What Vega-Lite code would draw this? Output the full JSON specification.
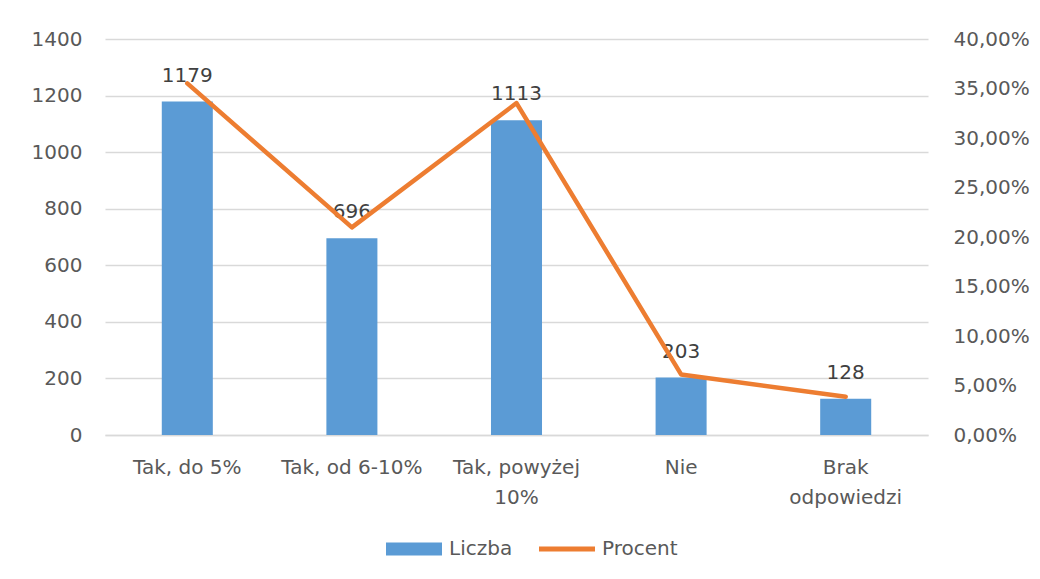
{
  "$schema": "https://vega.github.io/schema/vega-lite/v6.json",
  "width": 823,
  "height": 396,
  "padding": {"left": 31, "top": 29, "right": 0, "bottom": 0},
  "background": "white",
  "config": {
    "font": "DejaVu Sans",
    "view": {"stroke": null},
    "axis": {
      "labelFont": "DejaVu Sans",
      "labelFontSize": 20,
      "labelColor": "#595959",
      "ticks": false,
      "domain": false
    },
    "legend": {
      "labelFont": "DejaVu Sans",
      "labelFontSize": 20,
      "labelColor": "#595959"
    }
  },
  "data": {
    "values": [
      {"kategoria": "Tak, do 5%", "Liczba": 1179, "Procent": 0.3552},
      {"kategoria": "Tak, od 6-10%", "Liczba": 696, "Procent": 0.2097},
      {"kategoria": "Tak, powyżej 10%", "Liczba": 1113, "Procent": 0.3353},
      {"kategoria": "Nie", "Liczba": 203, "Procent": 0.0612},
      {"kategoria": "Brak odpowiedzi", "Liczba": 128, "Procent": 0.0386}
    ]
  },
  "encoding": {
    "x": {
      "field": "kategoria",
      "type": "nominal",
      "sort": null,
      "scale": {"paddingInner": 0.69, "paddingOuter": 0.345},
      "axis": {
        "title": null,
        "labelAngle": 0,
        "labelPadding": 22,
        "labelLineHeight": 30,
        "labelBaseline": "top",
        "domain": true,
        "domainColor": "#D9D9D9",
        "domainWidth": 1.5,
        "labelExpr": "datum.value == 'Tak, powyżej 10%' ? ['Tak, powyżej', '10%'] : datum.value == 'Brak odpowiedzi' ? ['Brak', 'odpowiedzi'] : datum.value"
      }
    }
  },
  "layer": [
    {
      "encoding": {
        "y": {
          "field": "Liczba",
          "type": "quantitative",
          "scale": {"domain": [0, 1400]},
          "axis": {
            "title": null,
            "orient": "left",
            "values": [0, 200, 400, 600, 800, 1000, 1200, 1400],
            "format": "d",
            "labelPadding": 23,
            "grid": true,
            "gridColor": "#D9D9D9",
            "gridWidth": 1.5
          }
        }
      },
      "layer": [
        {
          "mark": {"type": "bar", "color": "#5B9BD5"},
          "encoding": {
            "color": {
              "datum": "Liczba",
              "scale": {"domain": ["Liczba", "Procent"], "range": ["#5B9BD5", "#ED7D31"]},
              "legend": {
                "title": null,
                "orient": "none",
                "direction": "horizontal",
                "legendX": 281,
                "legendY": 482,
                "symbolSize": 3136,
                "labelOffset": 7,
                "columnPadding": 26,
                "encode": {
                  "symbols": {
                    "update": {
                      "shape": {"signal": "datum.value === 'Liczba' ? 'M-1,-0.23H1V0.23H-1Z' : 'M-1,-0.09H1V0.09H-1Z'"},
                      "fill": {"signal": "datum.value === 'Liczba' ? '#5B9BD5' : '#ED7D31'"},
                      "stroke": {"value": "transparent"},
                      "strokeWidth": {"value": 0},
                      "opacity": {"value": 1}
                    }
                  }
                }
              }
            }
          }
        },
        {
          "mark": {"type": "text", "dy": -26, "baseline": "middle", "fontSize": 20, "color": "#404040"},
          "encoding": {
            "text": {"field": "Liczba", "type": "quantitative", "format": "d"}
          }
        }
      ]
    },
    {
      "mark": {"type": "line", "strokeWidth": 4.5, "strokeCap": "round", "strokeJoin": "round"},
      "encoding": {
        "y": {
          "field": "Procent",
          "type": "quantitative",
          "scale": {"domain": [0, 0.4]},
          "axis": {
            "title": null,
            "orient": "right",
            "values": [0, 0.05, 0.1, 0.15, 0.2, 0.25, 0.3, 0.35, 0.4],
            "labelExpr": "replace(format(datum.value, '.2%'), '.', ',')",
            "labelPadding": 25,
            "grid": false
          }
        },
        "color": {"datum": "Procent"}
      }
    }
  ],
  "resolve": {"scale": {"y": "independent"}}
}
